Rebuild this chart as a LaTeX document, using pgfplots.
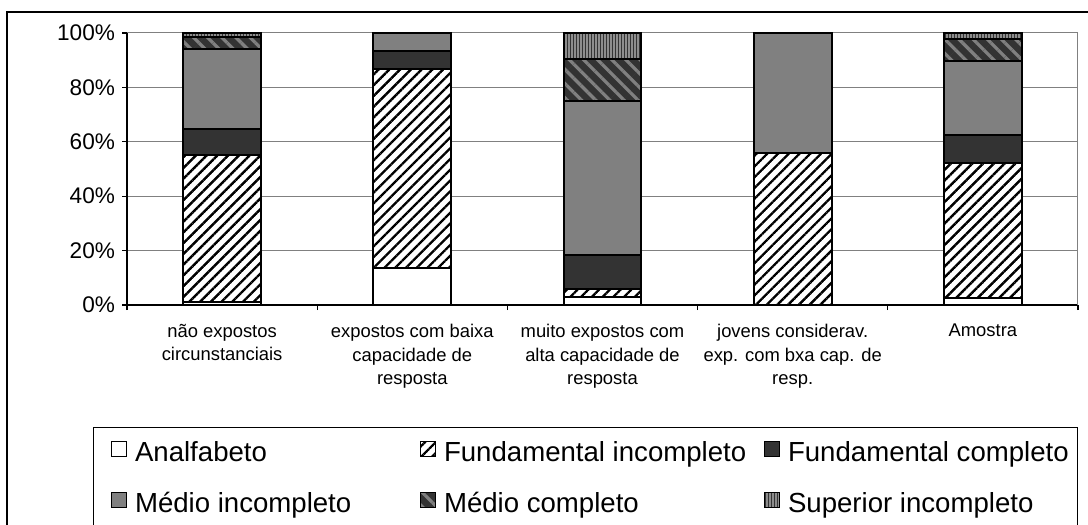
\documentclass[border=0pt]{standalone}
\usepackage{fontspec}
\setmainfont{Liberation Sans}
\usepackage{pgfplots}
\pgfplotsset{compat=1.18}
\usetikzlibrary{patterns.meta}

\definecolor{escuro}{HTML}{333333}
\definecolor{medio}{HTML}{808080}

% padroes com fundo proprio
\tikzdeclarepattern{
  name=fundinc, type=colored,
  bottom left={(-0.1pt,-0.1pt)}, top right={(3.9pt,3.9pt)},
  tile size={(3.8pt,3.8pt)}, tile transformation={rotate=45},
  code={\fill[white] (-0.1pt,-0.1pt) rectangle (3.9pt,3.9pt);
        \fill[black] (-0.1pt,0pt) rectangle (3.9pt,1.2pt);}
}
\tikzdeclarepattern{
  name=medcomp, type=colored,
  bottom left={(-0.1pt,-0.1pt)}, top right={(5.1pt,5.1pt)},
  tile size={(5pt,5pt)}, tile transformation={rotate=-45},
  code={\fill[escuro] (-0.1pt,-0.1pt) rectangle (5.1pt,5.1pt);
        \fill[medio] (-0.1pt,0pt) rectangle (5.1pt,1.6pt);}
}
\tikzdeclarepattern{
  name=supinc, type=colored,
  bottom left={(-0.1pt,-0.1pt)}, top right={(1.6pt,1.6pt)},
  tile size={(1.5pt,1.5pt)},
  code={\fill[medio!90!white] (-0.1pt,-0.1pt) rectangle (1.6pt,1.6pt);
        \fill[escuro] (0pt,-0.1pt) rectangle (0.55pt,1.6pt);}
}

\pgfplotsset{
  analf/.style={fill=white, draw=black, line width=1pt},
  fundinc/.style={pattern=fundinc, draw=black, line width=1pt},
  fundcomp/.style={fill=escuro, draw=black, line width=1pt},
  medinc/.style={fill=medio, draw=black, line width=1pt},
  medcomp/.style={pattern=medcomp, draw=black, line width=1pt},
  supinc/.style={pattern=supinc, draw=black, line width=1pt},
}

\begin{document}
\begin{tikzpicture}
% moldura externa (cortada a direita e embaixo)
\draw[black, line width=0.8pt] (3.5pt,-20pt) rectangle (570pt,256.5pt);
% caixa da legenda
\draw[black, line width=0.5pt] (46.5pt,-20pt) rectangle (538.5pt,48.5pt);

\begin{axis}[
  at={(63.5pt,110pt)}, anchor=south west,
  scale only axis, width=475.5pt, height=136pt,
  ybar stacked, bar width=0.41,
  xmin=-0.5, xmax=4.5, ymin=0, ymax=100,
  axis lines=left,
  axis line style={black, line width=0.6pt, -},
  tick align=outside,
  major tick length=2.5pt,
  tick style={black, line width=0.6pt},
  xtick={-0.5,0.5,1.5,2.5,3.5,4.5},
  x tick label as interval,
  xticklabels={
    n\~ao expostos\\circunstanciais,
    expostos com baixa\\capacidade de\\resposta,
    muito expostos com\\alta capacidade de\\resposta,
    jovens considerav.\\exp. com bxa cap. de\\resp.,
    Amostra},
  xticklabel style={align=center, anchor=north, yshift=-3.5pt,
    font=\fontsize{9.2}{11.8}\selectfont},
  ytick={0,20,40,60,80,100},
  yticklabels={0\%,20\%,40\%,60\%,80\%,100\%},
  yticklabel style={font=\fontsize{11.3}{13}\selectfont},
  /pgf/number format/assume math mode=true,
  ymajorgrids,
  grid style={medio, line width=0.5pt},
  legend columns=3,
  legend cell align=left,
  legend image code/.code={\draw[#1, line width=0.5pt] (0pt,-1pt) rectangle (7.5pt,6.5pt);},
  legend style={draw=none, fill=none, inner sep=0pt, outer sep=0pt,
    at={(-0.0168,-0.5015)}, anchor=north west,
    font=\fontsize{13.8}{16}\selectfont,
    row sep=12pt, column sep=0pt,
    nodes={inner sep=0pt, text height=10pt, text depth=3pt},
    /tikz/every odd column/.style={column sep=4pt}},
]
\addplot[analf] coordinates {(0,1.2) (1,13.5) (2,3.0) (3,0) (4,2.5)};
\addlegendentry{\makebox[142.5pt][l]{Analfabeto}}
\addplot[fundinc] coordinates {(0,54.1) (1,73.3) (2,3.0) (3,55.8) (4,49.8)};
\addlegendentry{\makebox[160pt][l]{Fundamental incompleto}}
\addplot[fundcomp] coordinates {(0,9.5) (1,6.7) (2,12.5) (3,0) (4,10.3)};
\addlegendentry{Fundamental completo}
\addplot[medinc] coordinates {(0,29.2) (1,6.5) (2,56.6) (3,44.2) (4,27.2)};
\addlegendentry{\makebox[142.5pt][l]{Médio incompleto}}
\addplot[medcomp] coordinates {(0,4.6) (1,0) (2,15.3) (3,0) (4,8.0)};
\addlegendentry{\makebox[160pt][l]{Médio completo}}
\addplot[supinc] coordinates {(0,1.4) (1,0) (2,9.6) (3,0) (4,2.2)};
\addlegendentry{Superior incompleto}
% borda direita da area de plotagem
\draw[medio, line width=0.5pt] (rel axis cs:1,0) -- (rel axis cs:1,1);
\end{axis}
\pgfresetboundingbox
\useasboundingbox (0,0) rectangle (544pt,262.5pt);
\end{tikzpicture}
\end{document}
